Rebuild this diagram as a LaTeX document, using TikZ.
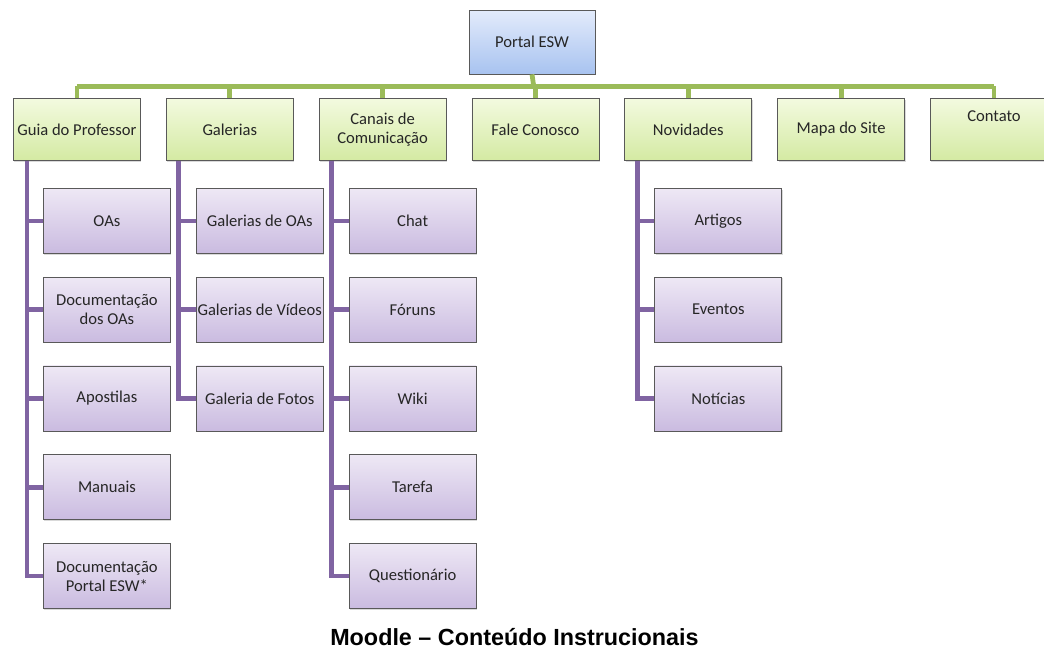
\documentclass[tikz,border=0pt]{standalone}
\usepackage{fontspec}
\setmainfont{Carlito}
\newfontfamily\titulofont{Liberation Sans}
\usepackage{xcolor}
\usetikzlibrary{positioning,calc,shadows}

\definecolor{verdelinha}{HTML}{9BBB59}
\definecolor{roxolinha}{HTML}{8064A2}
\definecolor{verdetopo}{HTML}{F3FADF}
\definecolor{verdebase}{HTML}{D4EAA3}
\definecolor{roxotopo}{HTML}{EEE8F5}
\definecolor{roxobase}{HTML}{CABBE0}
\definecolor{azultopo}{HTML}{E3EBFB}
\definecolor{azulbase}{HTML}{A8C3F0}

\begin{document}
\begin{tikzpicture}[
    node distance=0.625cm,
    caixa/.style={rectangle, draw=black!65, line width=0.6pt, minimum width=3.175cm, inner xsep=0.5pt, align=center, text=black!85, font=\fontsize{11.8}{13.5}\selectfont, drop shadow={shadow xshift=0.7pt, shadow yshift=-0.9pt, opacity=0.3}},
    topo/.style={caixa, minimum height=1.55cm, top color=verdetopo, bottom color=verdebase},
    filho/.style={caixa, minimum height=1.625cm, top color=roxotopo, bottom color=roxobase},
    raiz/.style={caixa, minimum width=3.15cm, minimum height=1.6cm, top color=azultopo, bottom color=azulbase},
    tronco/.style={draw=verdelinha, line width=3.4pt},
    ramo/.style={draw=roxolinha, line width=3.2pt}
]
\useasboundingbox (0,0) rectangle (26.1,-16.45);
\clip (0,0) rectangle (26.1,-16.45);

% raiz e primeiro nivel
\node[raiz] (portal) at (13.3,-1.05) {Portal ESW};
\node[topo, anchor=north west] (guia) at (0.325,-2.45) {Guia do Professor};
\node[topo, right=of guia] (galerias) {Galerias};
\node[topo, right=of galerias] (canais) {Canais de\\Comunicação};
\node[topo, right=of canais] (fale) {Fale Conosco};
\node[topo, right=of fale] (novidades) {Novidades};
\node[topo, right=of novidades] (mapa) {Mapa do Site};
\node[topo, right=of mapa, text depth=0.65cm] (contato) {Contato};

\coordinate (barra) at ($(portal.south)!0.5!(fale.north)$);
\draw[tronco] (portal.south) -- (barra);
\draw[tronco] (guia.north |- barra) -- (contato.north |- barra);
\foreach \n in {guia,galerias,canais,fale,novidades,mapa,contato}
    \draw[tronco] (\n.north |- barra) -- (\n.north);

% Guia do Professor
\node[filho, anchor=north west] (oas) at ($(guia.south west)+(0.75,-0.675)$) {OAs};
\node[filho, below=0.575cm of oas] (docoas) {Documentação\\dos OAs};
\node[filho, below=0.575cm of docoas] (apostilas) {Apostilas};
\node[filho, below=0.575cm of apostilas] (manuais) {Manuais};
\node[filho, below=0.575cm of manuais] (docportal) {Documentação\\Portal ESW*};

% Galerias
\node[filho, anchor=north west] (galoas) at ($(galerias.south west)+(0.75,-0.675)$) {Galerias de OAs};
\node[filho, below=0.575cm of galoas] (galvideos) {Galerias de Vídeos};
\node[filho, below=0.575cm of galvideos] (galfotos) {Galeria de Fotos};

% Canais de Comunicacao
\node[filho, anchor=north west] (chat) at ($(canais.south west)+(0.75,-0.675)$) {Chat};
\node[filho, below=0.575cm of chat] (foruns) {Fóruns};
\node[filho, below=0.575cm of foruns] (wiki) {Wiki};
\node[filho, below=0.575cm of wiki] (tarefa) {Tarefa};
\node[filho, below=0.575cm of tarefa] (quest) {Questionário};

% Novidades
\node[filho, anchor=north west] (artigos) at ($(novidades.south west)+(0.75,-0.675)$) {Artigos};
\node[filho, below=0.575cm of artigos] (eventos) {Eventos};
\node[filho, below=0.575cm of eventos] (noticias) {Notícias};

% ramos roxos
\coordinate (eguia) at ($(guia.south west)+(0.35,0)$);
\draw[ramo] (eguia) |- (docportal.west);
\foreach \f in {oas,docoas,apostilas,manuais}
    \draw[ramo] (eguia |- \f.west) -- (\f.west);

\coordinate (egal) at ($(galerias.south west)+(0.32,0)$);
\draw[ramo] (egal) |- (galfotos.west);
\foreach \f in {galoas,galvideos}
    \draw[ramo] (egal |- \f.west) -- (\f.west);

\coordinate (ecan) at ($(canais.south west)+(0.32,0)$);
\draw[ramo] (ecan) |- (quest.west);
\foreach \f in {chat,foruns,wiki,tarefa}
    \draw[ramo] (ecan |- \f.west) -- (\f.west);

\coordinate (enov) at ($(novidades.south west)+(0.33,0)$);
\draw[ramo] (enov) |- (noticias.west);
\foreach \f in {artigos,eventos}
    \draw[ramo] (enov |- \f.west) -- (\f.west);

\node[font={\titulofont\bfseries\fontsize{16.6}{18}\selectfont}] (titulo) at (12.86,-15.925) {Moodle – Conteúdo Instrucionais};
\end{tikzpicture}
\end{document}
